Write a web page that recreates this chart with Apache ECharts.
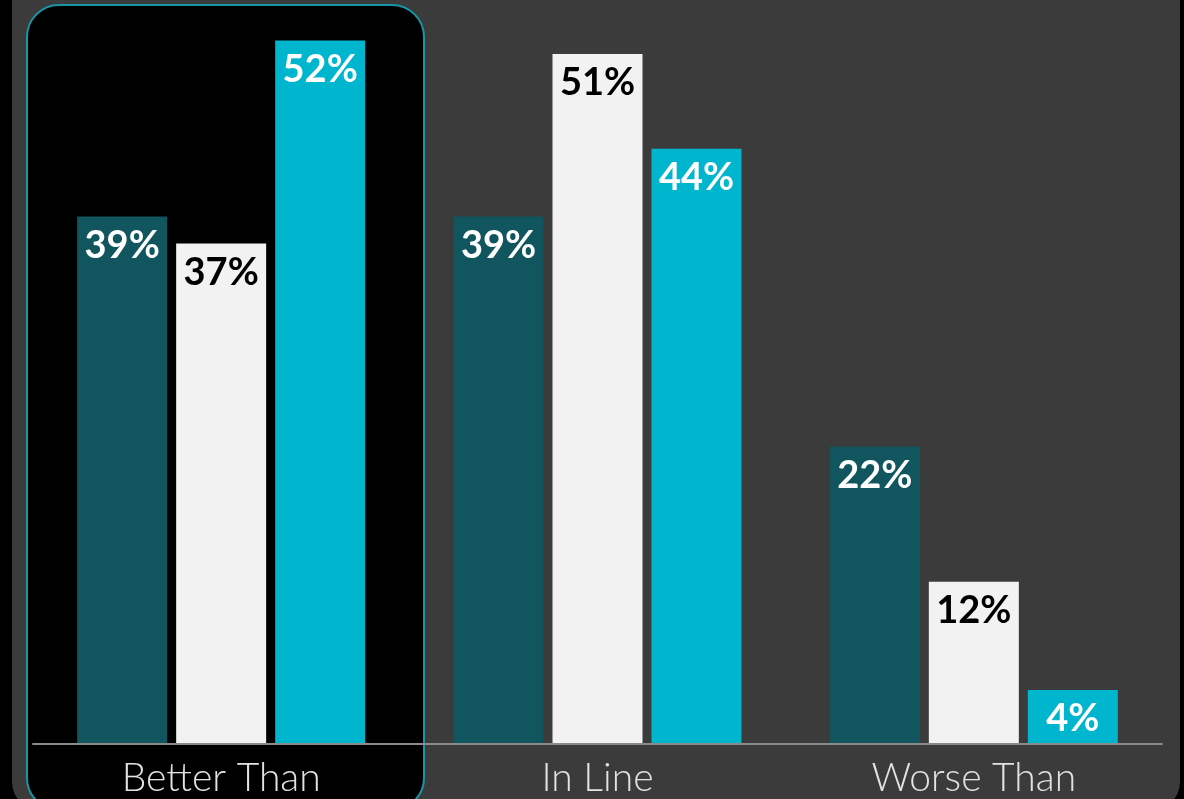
<!DOCTYPE html>
<html>
<head>
<meta charset="utf-8">
<script src="https://cdn.jsdelivr.net/npm/echarts@6/dist/echarts.min.js"></script>
<style>
  html, body { margin: 0; padding: 0; background: #000; }
  #chart { width: 1184px; height: 799px; }
</style>
</head>
<body>
<div id="chart"></div>
<script>
// Categories along the x axis
const categories = ['Better Than', 'In Line', 'Worse Than'];

// Three comparison series, values in percent
const seriesA = [39, 39, 22];
const seriesB = [37, 51, 12];
const seriesC = [52, 44, 4];

const colors = ['#11565f', '#f2f2f2', '#00b5ce'];
const labelColors = ['#ffffff', '#000000', '#ffffff'];

const chart = echarts.init(document.getElementById('chart'), null, { renderer: 'canvas' });

function makeSeries(name, data, idx) {
  return {
    name: name,
    type: 'bar',
    data: data,
    barWidth: 90,
    barGap: '10%',
    itemStyle: { color: colors[idx] },
    z: 3,
    label: {
      show: true,
      position: 'insideTop',
      distance: 10,
      formatter: '{c}%',
      color: labelColors[idx],
      fontFamily: 'Lato',
      fontWeight: 'bold',
      fontSize: 38
    }
  };
}

chart.setOption({
  backgroundColor: '#000000',
  animation: false,
  graphic: [
    {
      type: 'rect',
      z: -10,
      shape: { x: 12, y: -40, width: 1168, height: 850, r: 28 },
      style: { fill: '#3b3b3b' }
    },
    {
      type: 'rect',
      z: -5,
      shape: { x: 27, y: 5, width: 397, height: 805, r: 32 },
      style: { fill: '#000000', stroke: '#1896a6', lineWidth: 2 }
    }
  ],
  grid: { left: 33, right: 22, top: 0, bottom: 55, containLabel: false },
  xAxis: {
    type: 'category',
    data: categories,
    axisLine: { show: true, lineStyle: { color: '#8a8a8a', width: 2 } },
    axisTick: { show: false },
    axisLabel: {
      color: '#e2e2e2',
      fontFamily: 'Lato',
      fontWeight: 300,
      fontSize: 39,
      margin: 15
    },
    z: 4
  },
  yAxis: {
    type: 'value',
    min: 0,
    max: 55,
    show: false,
    splitLine: { show: false }
  },
  series: [
    makeSeries('A', seriesA, 0),
    makeSeries('B', seriesB, 1),
    makeSeries('C', seriesC, 2)
  ]
});
</script>
</body>
</html>
